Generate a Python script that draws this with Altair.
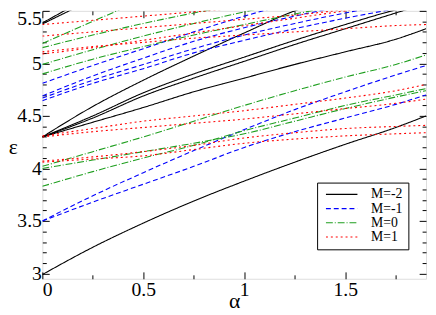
import altair as alt
import pandas as pd

# ---------------- data ----------------
X_GRID = [0.0, 0.25, 0.5, 0.75, 1.0, 1.25, 1.5, 1.75, 1.9]
M_LABELS = ["M=-2", "M=-1", "M=0", "M=1"]

# M=-2 (black solid)
B_LOW = [2.99, 3.25, 3.48, 3.69, 3.88, 4.06, 4.23, 4.39, 4.50]
B_FAN1 = [4.30, 4.59, 4.84, 5.07, 5.29, 5.50, 5.64]
B_FAN2 = [4.30, 4.50, 4.72, 4.90, 5.06, 5.22, 5.37, 5.51, 5.58]
B_FAN3 = [4.30, 4.48, 4.69, 4.86, 5.02, 5.18, 5.33, 5.48, 5.57]
B_FAN4 = [4.30, 4.44, 4.58, 4.73, 4.86, 4.99, 5.11, 5.23, 5.33]
B_TOP1 = [5.385, 5.65]
B_TOP2 = [5.375, 5.61]

# M=-1 (blue dashed)
L_UP = [3.50, 3.74, 3.96, 4.17, 4.37, 4.56, 4.73, 4.89, 4.98]
L_LO = [3.50, 3.68, 3.85, 4.02, 4.20, 4.35, 4.48, 4.61, 4.70]
U1 = [4.81, 4.98, 5.14, 5.30, 5.45, 5.58]
U2 = [4.69, 4.88, 5.05, 5.21, 5.34, 5.45, 5.55]
U3 = [4.67, 4.84, 4.99, 5.14, 5.27, 5.38, 5.48, 5.57]
U4 = [4.645, 4.81, 4.95, 5.10, 5.22, 5.33, 5.43, 5.52]

# M=0 (green dash-dot)
G_A = [4.02, 4.16, 4.30, 4.45, 4.60, 4.74, 4.87, 4.99, 5.08]
G_B = [4.00, 4.08, 4.16, 4.24, 4.33, 4.45, 4.57, 4.68, 4.74]
G_C = [3.83, 3.97, 4.10, 4.22, 4.36, 4.48, 4.60, 4.70, 4.76]
GU1 = [5.19, 5.40, 5.61]
GU2 = [5.15, 5.27, 5.38, 5.48, 5.57]
GU3 = [4.99, 5.13, 5.26, 5.38, 5.49, 5.59]
GU4 = [4.90, 5.04, 5.16, 5.27, 5.37, 5.47, 5.56]

# M=1 (red dotted)
R_A = [4.31, 4.38, 4.45, 4.50, 4.55, 4.61, 4.67, 4.74, 4.80]
R_B = [4.30, 4.35, 4.39, 4.43, 4.47, 4.52, 4.57, 4.62, 4.66]
R_C = [4.07, 4.11, 4.16, 4.22, 4.29, 4.34, 4.38, 4.40, 4.41]
R_D = [4.06, 4.09, 4.12, 4.18, 4.24, 4.28, 4.31, 4.33, 4.34]
RU1 = [5.37, 5.41, 5.45, 5.49, 5.53]
RU2 = [5.26, 5.30, 5.34, 5.38, 5.42, 5.46, 5.51, 5.55]
RU3 = [5.11, 5.16, 5.20, 5.24, 5.27, 5.30, 5.33, 5.36, 5.37]
RU4 = [5.09, 5.15, 5.22, 5.29, 5.36, 5.43, 5.50, 5.56]

CURVES = [
    ("M=-2", B_LOW), ("M=-2", B_FAN1), ("M=-2", B_FAN2), ("M=-2", B_FAN3),
    ("M=-2", B_FAN4), ("M=-2", B_TOP1), ("M=-2", B_TOP2),
    ("M=-1", L_UP), ("M=-1", L_LO), ("M=-1", U1), ("M=-1", U2), ("M=-1", U3), ("M=-1", U4),
    ("M=0", G_A), ("M=0", G_B), ("M=0", G_C), ("M=0", GU1), ("M=0", GU2), ("M=0", GU3), ("M=0", GU4),
    ("M=1", R_A), ("M=1", R_B), ("M=1", R_C), ("M=1", R_D),
    ("M=1", RU1), ("M=1", RU2), ("M=1", RU3), ("M=1", RU4),
]

X_MAJOR = [0, 0.5, 1, 1.5]
X_MINOR = [0.25, 0.75, 1.25, 1.75]
Y_MAJOR = [3, 3.5, 4, 4.5, 5, 5.5]
Y_MINOR = [3.1, 3.2, 3.3, 3.4, 3.6, 3.7, 3.8, 3.9, 4.1, 4.2, 4.3, 4.4,
           4.6, 4.7, 4.8, 4.9, 5.1, 5.2, 5.3, 5.4]

COLORS = ["#000000", "#0000ff", "#1f9f1f", "#ff0000"]
DASHES = [[1, 0], [5, 3], [7, 2, 1, 2], [2, 3]]
WIDTHS = [1.1, 1.1, 1.1, 2.0]

rows = []
for cid, (m, ys) in enumerate(CURVES):
    for x, y in zip(X_GRID, ys):
        rows.append({"x": x, "y": y, "M": m, "cid": cid})
df = pd.DataFrame(rows)

FONT = "Liberation Serif, Times New Roman, Times, serif"
xs = alt.Scale(domain=[0, 1.9], nice=False, zero=False)
ysc = alt.Scale(domain=[2.95, 5.5], nice=False, zero=False)


def ax(orient, values, size, labels=False, **kw):
    return alt.Axis(orient=orient, values=values, tickSize=size, offset=-size,
                    labels=labels, domain=False, grid=False, tickColor="black",
                    labelFont=FONT, labelFontSize=20, labelColor="black",
                    labelPadding=1, format="~g", **kw)


legend = alt.Legend(orient="none", legendX=280, legendY=175, title=None,
                    symbolType="M-1,0H9.7", symbolSize=36, symbolStrokeWidth=1.2,
                    labelFont=FONT, labelFontSize=14, labelColor="black",
                    strokeColor="black", fillColor="white", padding=5,
                    labelOffset=36, rowPadding=0.5, cornerRadius=0)

lines = alt.Chart(df).mark_line(clip=True, interpolate="monotone").encode(
    x=alt.X("x:Q", scale=xs, axis=ax("bottom", X_MAJOR, 7, labels=True, title="α",
                                      titleFont=FONT, titleFontSize=22,
                                      titleFontWeight="normal", titleColor="black",
                                      titleY=36, titleBaseline="alphabetic")),
    y=alt.Y("y:Q", scale=ysc, axis=ax("left", Y_MAJOR, 7, labels=True, title="ε",
                                       labelFlush=1, labelFlushOffset=2,
                                       titleFont=FONT, titleFontSize=22,
                                       titleFontWeight="normal", titleColor="black",
                                       titleAngle=0, titleX=-37, titleY=138,
                                       titleAlign="center", titleBaseline="middle")),
    detail="cid:N",
    color=alt.Color("M:N", scale=alt.Scale(domain=M_LABELS, range=COLORS), legend=legend),
    strokeDash=alt.StrokeDash("M:N", scale=alt.Scale(domain=M_LABELS, range=DASHES), legend=legend),
    strokeWidth=alt.StrokeWidth("M:N", scale=alt.Scale(domain=M_LABELS, range=WIDTHS), legend=None),
)


def ghost(xaxis, yaxis):
    return alt.Chart(df).mark_point(opacity=0, size=0).encode(
        x=alt.X("x:Q", scale=xs, axis=xaxis),
        y=alt.Y("y:Q", scale=ysc, axis=yaxis),
    )


g1 = ghost(ax("top", X_MAJOR, 7, title=None), ax("right", Y_MAJOR, 7, title=None))
g2 = ghost(ax("bottom", X_MINOR, 4, title=None), ax("left", Y_MINOR, 4, title=None))
g3 = ghost(ax("top", X_MINOR, 4, title=None), ax("right", Y_MINOR, 4, title=None))

chart = alt.layer(lines, g1, g2, g3).resolve_axis(
    x="independent", y="independent"
).properties(
    width=391, height=273,
    autosize=alt.AutoSizeParams(type="none"),
    padding={"left": 35, "top": 0, "right": 2, "bottom": 34},
).configure_view(stroke="black", strokeWidth=1.2).configure(background="white")

chart.save("out.html", embed_options={"renderer": "svg", "actions": False})
